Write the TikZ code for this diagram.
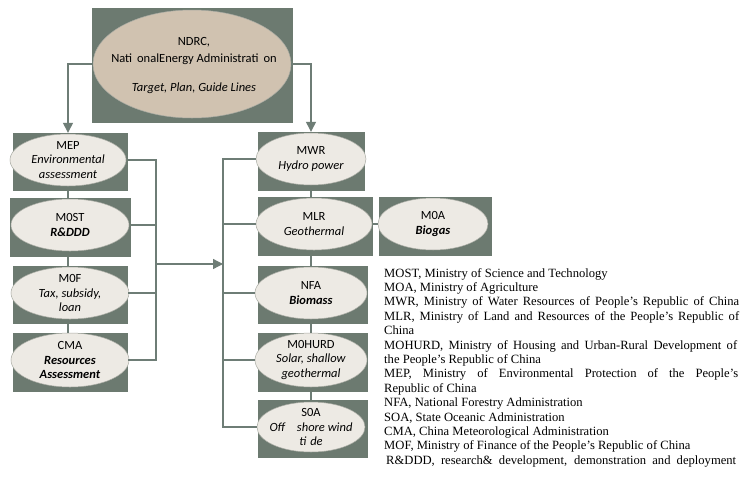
\documentclass[tikz,border=0pt]{standalone}
\usepackage{fontspec}
\setmainfont{Liberation Serif}
\newfontfamily\elfont{Carlito}
\usetikzlibrary{shapes.geometric,arrows.meta}
\definecolor{boxc}{HTML}{6C7A70}
\definecolor{ndrcc}{HTML}{D0C2B0}
\definecolor{ellc}{HTML}{EDEAE4}
\definecolor{ellb}{HTML}{A9ABA3}
\definecolor{connc}{HTML}{6E7D76}
\begin{document}
\begin{tikzpicture}[x=1pt,y=-1pt,
  box/.style={rectangle, fill=boxc, draw=none, inner sep=0},
  ell/.style={ellipse, fill=ellc, draw=ellb, line width=0.5pt, inner sep=0},
  elltext/.style={inner sep=0, align=center, font=\elfont\fontsize{12.5}{14.5}\selectfont},
  conn/.style={draw=connc, line width=1.3pt},
  arr/.style={conn, -{Triangle[length=10pt,width=10pt]}},
  legline/.style={anchor=base west, inner sep=0, font=\fontsize{12.6}{14.4}\selectfont}
]
\useasboundingbox (0,0) rectangle (741,477);
\fill[white] (0,0) rectangle (741,477);

% boxes
\node[box, minimum width=201pt, minimum height=115pt] (bNDRC) at (192.5,65.5) {};
\node[box, minimum width=115pt, minimum height=58pt] (bMEP) at (70.5,162) {};
\node[box, minimum width=121pt, minimum height=59pt] (bMOST) at (70.5,227.5) {};
\node[box, minimum width=115pt, minimum height=58pt] (bMOF) at (70.5,295) {};
\node[box, minimum width=115pt, minimum height=59pt] (bCMA) at (70.5,362.5) {};
\node[box, minimum width=107pt, minimum height=59pt] (bMWR) at (311.5,161.5) {};
\node[box, minimum width=115pt, minimum height=59pt] (bMLR) at (315.5,226.5) {};
\node[box, minimum width=113pt, minimum height=59pt] (bMOA) at (435.5,226.5) {};
\node[box, minimum width=110pt, minimum height=58pt] (bNFA) at (313,295) {};
\node[box, minimum width=110pt, minimum height=59pt] (bMOHURD) at (313,362.5) {};
\node[box, minimum width=110pt, minimum height=58pt] (bSOA) at (313,429) {};

% ellipses
\node[ell, fill=ndrcc, minimum width=198pt, minimum height=108pt] (eNDRC) at (192,64) {};
\node[ell, minimum width=116pt, minimum height=52pt] (eMEP) at (68,160) {};
\node[ell, minimum width=118pt, minimum height=52pt] (eMOST) at (70,225) {};
\node[ell, minimum width=118pt, minimum height=52pt] (eMOF) at (70,293) {};
\node[ell, minimum width=118pt, minimum height=54pt] (eCMA) at (70,360) {};
\node[ell, minimum width=110pt, minimum height=52pt] (eMWR) at (311,159) {};
\node[ell, minimum width=116pt, minimum height=52pt] (eMLR) at (314,224) {};
\node[ell, minimum width=110pt, minimum height=52pt] (eMOA) at (433,224) {};
\node[ell, minimum width=112pt, minimum height=52pt] (eNFA) at (311,293) {};
\node[ell, minimum width=112pt, minimum height=54pt] (eMOHURD) at (311,360) {};
\node[ell, minimum width=108pt, minimum height=50pt] (eSOA) at (311,427) {};

% texts
\node[elltext, font=\elfont\fontsize{12.5}{17}\selectfont] (tNDRC) at (194,66)
  {NDRC,\\Nati\hspace{5pt}onalEnergy Administrati\hspace{5pt}on\\[12pt]\textit{Target, Plan, Guide Lines}};
\node[elltext] (tMEP) at (eMEP) {MEP\\\textit{Environmental}\\\textit{assessment}};
\node[elltext] (tMOST) at (eMOST) {M0ST\\\textbf{\textit{R\&DDD}}};
\node[elltext] (tMOF) at (eMOF) {M0F\\\textit{Tax, subsidy,}\\\textit{loan}};
\node[elltext] (tCMA) at (eCMA) {CMA\\\textbf{\textit{Resources}}\\\textbf{\textit{Assessment}}};
\node[elltext] (tMWR) at (eMWR) {MWR\\\textit{Hydro power}};
\node[elltext] (tMLR) at (eMLR) {MLR\\\textit{Geothermal}};
\node[elltext] (tMOA) at (eMOA) {M0A\\\textbf{\textit{Biogas}}};
\node[elltext] (tNFA) at (eNFA) {NFA\\\textbf{\textit{Biomass}}};
\node[elltext] (tMOHURD) at (eMOHURD) {M0HURD\\\textit{Solar, shallow}\\\textit{geothermal}};
\node[elltext] (tSOA) at (eSOA) {S0A\\\textit{Off\hspace{12pt}shore wind}\\\textit{ti\hspace{4pt}de}\hspace{28pt}};

% connectors from NDRC
\draw[arr] (eNDRC.west) -| (eMEP.center |- bMEP.north);
\draw[arr] (eNDRC.east) -| (eMWR.center |- bMWR.north);

% vertical links in columns
\draw[conn] (eMEP.center |- bMEP.south) -- (eMEP.center |- bMOST.north);
\draw[conn] (eMEP.center |- bMOST.south) -- (eMEP.center |- bMOF.north);
\draw[conn] (eMEP.center |- bMOF.south) -- (eMEP.center |- bCMA.north);
\draw[conn] (eMWR.center |- bMWR.south) -- (eMWR.center |- bMLR.north);
\draw[conn] (eMWR.center |- bMLR.south) -- (eMWR.center |- bNFA.north);
\draw[conn] (eMWR.center |- bNFA.south) -- (eMWR.center |- bMOHURD.north);
\draw[conn] (eMWR.center |- bMOHURD.south) -- (eMWR.center |- bSOA.north);
\draw[conn] (bMLR.east |- eMLR.east) -- (eMOA.west);

% brackets
\coordinate (L) at (156,264);
\coordinate (R) at (223,264);
\draw[conn] (bMEP.east |- eMEP.east) -| (L |- eCMA.east) -- (bCMA.east |- eCMA.east);
\draw[conn] (bMOST.east |- eMOST.east) -- (L |- eMOST.east);
\draw[conn] (bMOF.east |- eMOF.east) -- (L |- eMOF.east);
\draw[arr] (L) -- (R);
\draw[conn] (eMWR.west) -| (R |- eSOA.west) -- (eSOA.west);
\draw[conn] (R |- eMLR.west) -- (eMLR.west);
\draw[conn] (R |- eNFA.west) -- (eNFA.west);
\draw[conn] (R |- eMOHURD.west) -- (eMOHURD.west);

% legend
\node[legline] (g1) at (384,277.0) {MOST, Ministry of Science and Technology};
\node[legline] (g2) at (384,291.4) {MOA, Ministry of Agriculture};
\node[legline] (g3) at (384,305.8) {\makebox[355pt][s]{MWR, Ministry of Water Resources of People's Republic of China}};
\node[legline] (g4) at (384,320.2) {\makebox[355pt][s]{MLR, Ministry of Land and Resources of the People's Republic of}};
\node[legline] (g5) at (384,334.6) {China};
\node[legline] (g6) at (384,349.0) {\makebox[353pt][s]{MOHURD, Ministry of Housing and Urban-Rural Development of}};
\node[legline] (g7) at (384,363.4) {the People's Republic of China};
\node[legline] (g8) at (384,377.8) {\makebox[354pt][s]{MEP, Ministry of Environmental Protection of the People's}};
\node[legline] (g9) at (384,392.2) {Republic of China};
\node[legline] (g10) at (384,406.6) {NFA, National Forestry Administration};
\node[legline] (g11) at (384,421.0) {SOA, State Oceanic Administration};
\node[legline] (g12) at (384,435.4) {CMA, China Meteorological Administration};
\node[legline] (g13) at (384,449.8) {MOF, Ministry of Finance of the People's Republic of China};
\node[legline] (g14) at (386,464.2) {\makebox[350pt][s]{R\&DDD, research\& development, demonstration and deployment}};
\end{tikzpicture}
\end{document}
